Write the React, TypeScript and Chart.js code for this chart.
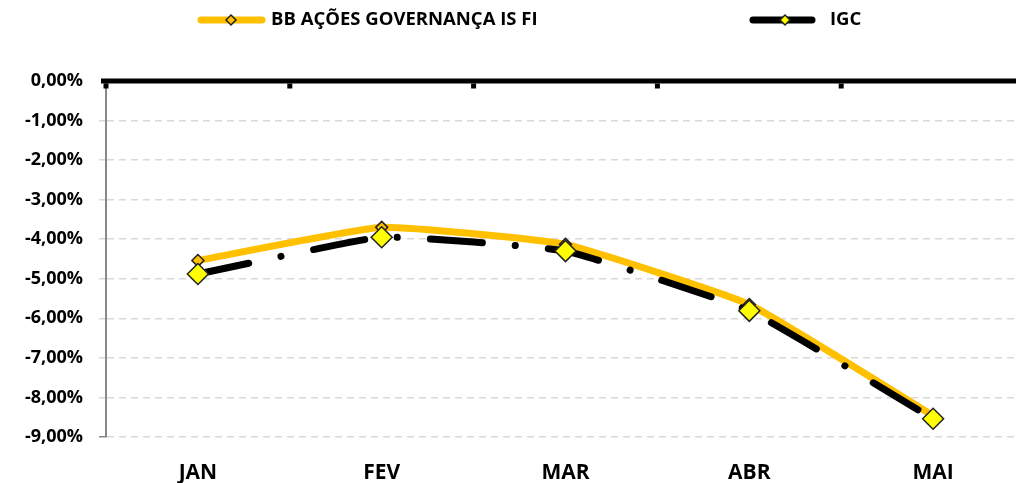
import React, { useEffect, useRef } from "react";
import { Chart, registerables } from "chart.js";

Chart.register(...registerables);

const categories = ["JAN", "FEV", "MAR", "ABR", "MAI"];
const bbValues = [-4.54, -3.7, -4.13, -5.65, -8.46];
const igcValues = [-4.88, -3.95, -4.3, -5.81, -8.54];
const seriesNames = ["BB AÇÕES GOVERNANÇA IS FI", "IGC"];
const yMin = -9;
const yMax = 0;
const yStep = 1;

const FONT = "'Open Sans', sans-serif";
const ORANGE = "#FFC000";
const YELLOW = "#FFFF00";
const CANVAS_W = 1037;

function fmtPct(v: number) {
  return v.toFixed(2).replace(".", ",") + "%";
}

export default function App() {
  const ref = useRef<HTMLCanvasElement>(null);

  useEffect(() => {
    if (!ref.current) return;

    const decor = {
      id: "excelDecor",
      afterDraw(chart: any) {
        const ctx = chart.ctx;
        const { chartArea, scales } = chart;
        const xs = scales.x;
        const ys = scales.y;
        const y0 = ys.getPixelForValue(0);
        const half = (xs.getPixelForValue(1) - xs.getPixelForValue(0)) / 2;
        ctx.save();
        ctx.fillStyle = "#000";
        ctx.fillRect(chartArea.left - 5, y0 - 2.5, chart.width - chartArea.left + 5, 5);
        for (let i = 0; i <= categories.length; i++) {
          const bx = xs.getPixelForValue(0) - half + i * 2 * half;
          ctx.fillRect(bx - 2.5, y0 + 2.5, 5, 5);
        }

        // legend
        const drawItem = (x1: number, x2: number, mx: number, color: string, mfill: string, text: string, tx: number) => {
          const ly = 20;
          ctx.strokeStyle = color;
          ctx.lineWidth = 7;
          ctx.lineCap = "round";
          ctx.beginPath();
          ctx.moveTo(x1, ly);
          ctx.lineTo(x2, ly);
          ctx.stroke();
          const r = 5;
          ctx.beginPath();
          ctx.moveTo(mx, ly - r);
          ctx.lineTo(mx + r, ly);
          ctx.lineTo(mx, ly + r);
          ctx.lineTo(mx - r, ly);
          ctx.closePath();
          ctx.fillStyle = mfill;
          ctx.fill();
          ctx.lineWidth = 1.5;
          ctx.strokeStyle = "#222";
          ctx.stroke();
          ctx.fillStyle = "#000";
          ctx.font = `bold 18.5px ${FONT}`;
          ctx.textBaseline = "middle";
          ctx.textAlign = "left";
          ctx.fillText(text, tx, ly);
        };
        drawItem(201, 262, 231, ORANGE, ORANGE, seriesNames[0], 271);
        drawItem(753, 812, 785, "#000", YELLOW, seriesNames[1], 830);
        ctx.restore();
      },
    };

    const chart = new Chart(ref.current, {
      type: "line",
      data: {
        labels: categories,
        datasets: [
          {
            label: seriesNames[0],
            data: bbValues,
            borderColor: ORANGE,
            borderWidth: 7,
            borderCapStyle: "round",
            tension: 0.12,
            pointStyle: "rectRot",
            pointRadius: 6,
            pointBackgroundColor: ORANGE,
            pointBorderColor: "#222",
            pointBorderWidth: 1.5,
            order: 2,
          },
          {
            label: seriesNames[1],
            data: igcValues,
            borderColor: "#000",
            borderWidth: 7,
            borderCapStyle: "round",
            borderDash: [52, 33, 0.1, 33],
            tension: 0.12,
            pointStyle: "rectRot",
            pointRadius: 10.5,
            pointBackgroundColor: YELLOW,
            pointBorderColor: "#222",
            pointBorderWidth: 1.5,
            order: 1,
          },
        ],
      },
      options: {
        animation: false,
        responsive: false,
        maintainAspectRatio: false,
        layout: { padding: { top: 81, left: 0, right: 0, bottom: 0 } },
        plugins: {
          legend: { display: false },
          tooltip: { enabled: false },
        },
        scales: {
          x: {
            offset: true,
            grid: { display: false, drawTicks: false },
            border: { display: false },
            ticks: {
              color: "#000",
              font: { family: FONT, size: 21, weight: "bold" },
              padding: 23,
            },
            afterFit(scale: any) {
              scale.height = 46;
            },
          },
          y: {
            min: yMin,
            max: yMax,
            ticks: {
              stepSize: yStep,
              color: "#000",
              font: { family: FONT, size: 18, weight: "bold" },
              padding: 16,
              callback: (v: any) => fmtPct(Number(v)),
            },
            grid: {
              color: (c: any) => (c.tick && c.tick.value === 0 ? "rgba(0,0,0,0)" : "#d9d9d9"),
              lineWidth: 1.5,
              tickLength: 7,
              tickBorderDash: [],
              tickColor: (c: any) =>
                c.tick && c.tick.value === yMin ? "#888" : c.tick && c.tick.value === 0 ? "rgba(0,0,0,0)" : "#d9d9d9",
            },
            border: { display: true, color: "#888", width: 2, dash: [7, 5] },
            afterFit(scale: any) {
              scale.width = 106;
            },
          },
        },
      },
      plugins: [decor],
    } as any);

    return () => chart.destroy();
  }, []);

  return (
    <div style={{ position: "fixed", left: 0, top: 0, width: 1016, height: 483, overflow: "hidden", background: "#fff" }}>
      <div style={{ width: CANVAS_W, height: 483 }}>
        <canvas ref={ref} width={CANVAS_W} height={483} style={{ width: CANVAS_W + "px", height: "483px", display: "block" }} />
      </div>
    </div>
  );
}
